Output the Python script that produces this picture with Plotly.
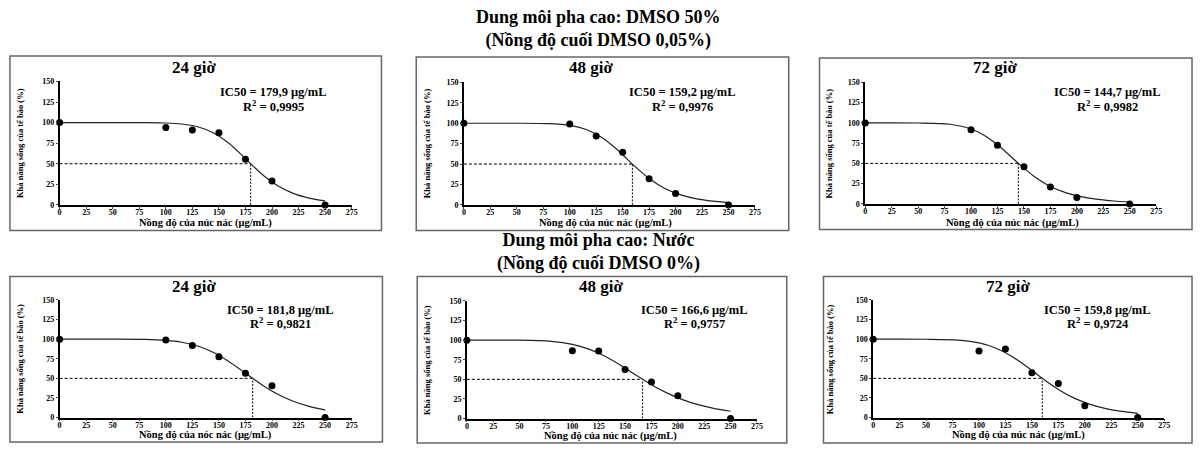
import plotly.graph_objects as go

# ---------------- data ----------------
conc = [0, 100, 125, 150, 175, 200, 250]

viability_dmso_24 = [100, 94, 91, 87.5, 55.5, 29, 0]
viability_dmso_48 = [100, 99, 84.5, 64.5, 32, 14, 0]
viability_dmso_72 = [100, 91.5, 72.5, 46, 21, 8, 0]
viability_water_24 = [100, 99, 92, 77.5, 56.5, 40.5, 0]
viability_water_48 = [100, 86.5, 86, 62.5, 46.5, 29, 0]
viability_water_72 = [100, 85, 87.5, 57, 43.5, 15, 0]

curve_x = [0, 50, 80, 100, 115, 130, 145, 160, 175, 190, 205, 220, 235, 250]
fit_dmso_24 = [100, 100, 99.9, 99.5, 98.3, 94.9, 87.4, 74.2, 56.2, 37.9, 23.6, 14.0, 8.3, 4.9]
fit_dmso_48 = [100, 100, 99.5, 97.4, 92.7, 82.9, 67.5, 49.0, 32.4, 20.1, 12.2, 7.4, 4.6, 2.9]
fit_dmso_72 = [100, 99.9, 98.3, 92.5, 82.7, 67.5, 49.7, 33.6, 21.5, 13.6, 8.6, 5.5, 3.6, 2.4]
fit_water_24 = [100, 100, 99.7, 98.5, 96.1, 91.3, 83.0, 71.0, 56.6, 42.3, 30.1, 20.8, 14.2, 9.7]
fit_water_48 = [100, 99.9, 98.4, 94.6, 88.8, 80.0, 68.5, 55.6, 43.2, 32.4, 23.8, 17.4, 12.7, 9.3]
fit_water_72 = [100, 99.9, 98.8, 95.3, 89.1, 78.9, 65.1, 49.8, 35.9, 24.8, 16.9, 11.4, 7.8, 5.4]

ic50_values = [179.9, 159.2, 144.7, 181.8, 166.6, 159.8]
r2_labels = ["0,9995", "0,9976", "0,9982", "0,9821", "0,9757", "0,9724"]
ic50_labels = ["179,9", "159,2", "144,7", "181,8", "166,6", "159,8"]
panel_titles = ["24 giờ", "48 giờ", "72 giờ", "24 giờ", "48 giờ", "72 giờ"]
x_titles = ["Nồng độ của núc nác (μg/mL)", "Nồng độ của núc nác (μg/mL)", "Nồng độ của núc nác (μg/mL)",
            "Nồng độ của nóc nác (μg/mL)", "Nồng độ của núc nác (μg/mL)", "Nồng độ của núc nác (μg/mL)"]
y_title = "Khả năng sống của tế bào (%)"
group_titles = ["Dung môi pha cao: DMSO 50%<br>(Nồng độ cuối DMSO 0,05%)",
                "Dung môi pha cao: Nước<br>(Nồng độ cuối DMSO 0%)"]
x_ticks = [0, 25, 50, 75, 100, 125, 150, 175, 200, 225, 250, 275]
y_ticks = [0, 25, 50, 75, 100, 125, 150]

points = [viability_dmso_24, viability_dmso_48, viability_dmso_72,
          viability_water_24, viability_water_48, viability_water_72]
fits = [fit_dmso_24, fit_dmso_48, fit_dmso_72, fit_water_24, fit_water_48, fit_water_72]

# ---------------- layout geometry (pixels) ----------------
W, H = 1200, 450
def px(x):
    return x / W
def py(y):
    return 1 - y / H

# axes plot area: (left, right, top, bottom)
axes_px = [(58, 352, 79, 205), (465, 758, 80, 205), (869, 1162, 80, 204),
           (58, 352, 302, 422), (468, 760, 303, 423), (877, 1170, 302, 422)]
boxes_px = [(8, 382, 53, 231), (417, 792, 54, 231), (823, 1198, 55, 230),
            (8, 383, 278, 447), (418, 790, 278, 448), (827, 1198, 278, 448)]
title_pos = [(193, 65), (593, 65), (1000, 65), (193, 288), (603, 288), (1013, 288)]
ic50_pos = [(273, 90), (685, 90), (1113, 90), (280, 312), (697, 312), (1103, 312)]
xtitle_pos = [(205, 223), (608, 223), (1017, 223), (205, 440), (613, 441), (1023, 440)]
ytitle_pos = [(18, 142), (428, 142), (833, 142), (18, 362), (428, 363), (833, 362)]
group_pos = [(600, 26), (600, 253)]

FONT = "Liberation Serif"

fig = go.Figure()
shapes = []
annotations = []

def txt(x, y, text, size, angle=0):
    return dict(x=px(x), y=py(y), xref="paper", yref="paper", showarrow=False,
                text=text, textangle=angle, xanchor="center", yanchor="middle", align="center",
                font=dict(family=FONT, size=size, color="black", weight="bold"))

for i in range(6):
    n = i + 1
    xa = "x" if n == 1 else f"x{n}"
    ya = "y" if n == 1 else f"y{n}"
    l, r, t, b = axes_px[i]
    fig.update_layout(**{
        ("xaxis" if n == 1 else f"xaxis{n}"): dict(
            domain=[px(l), px(r)], anchor=ya, range=[0, 275],
            tickvals=x_ticks, ticks="outside", ticklen=2, tickwidth=1,
            ticklabelstandoff=-3,
            showline=True, linecolor="black", linewidth=1.5,
            showgrid=False, zeroline=False,
            tickfont=dict(family=FONT, size=8, color="black", weight="bold"),
        ),
        ("yaxis" if n == 1 else f"yaxis{n}"): dict(
            domain=[py(b), py(t)], anchor=xa, range=[0, 150],
            tickvals=y_ticks, ticks="outside", ticklen=2, tickwidth=1,
            showline=True, linecolor="black", linewidth=1.5,
            showgrid=False, zeroline=False,
            tickfont=dict(family=FONT, size=8, color="black", weight="bold"),
        ),
    })
    ic = ic50_values[i]
    # reference lines
    fig.add_trace(go.Scatter(x=[0, ic], y=[50, 50], mode="lines", xaxis=xa, yaxis=ya,
                             line=dict(color="black", width=1, dash="3px,2px"),
                             showlegend=False, hoverinfo="skip"))
    fig.add_trace(go.Scatter(x=[ic, ic], y=[0, 50], mode="lines", xaxis=xa, yaxis=ya,
                             line=dict(color="black", width=1, dash="2px,1.5px"),
                             showlegend=False, hoverinfo="skip"))
    # fitted curve
    fig.add_trace(go.Scatter(x=curve_x, y=fits[i], mode="lines", xaxis=xa, yaxis=ya,
                             line=dict(color="#222222", width=1.2, shape="spline", smoothing=0.8),
                             showlegend=False))
    # data points
    fig.add_trace(go.Scatter(x=conc, y=points[i], mode="markers", xaxis=xa, yaxis=ya,
                             marker=dict(color="black", size=7), cliponaxis=False,
                             showlegend=False))
    # panel box
    bl, br, bt, bb = boxes_px[i]
    shapes.append(dict(type="rect", xref="paper", yref="paper",
                       x0=px(bl), x1=px(br), y0=py(bb), y1=py(bt),
                       line=dict(color="#666666", width=1.5)))
    # texts
    tx, ty = title_pos[i]
    annotations.append(txt(tx, ty, panel_titles[i], 17))
    cx, cy = ic50_pos[i]
    annotations.append(txt(cx, cy, f"IC50 = {ic50_labels[i]} μg/mL", 12.5))
    annotations.append(txt(cx, cy + 14, f"R<sup>2</sup> = {r2_labels[i]}", 12.5))
    ax_, ay_ = xtitle_pos[i]
    annotations.append(txt(ax_, ay_, x_titles[i], 10.5))
    yx, yy = ytitle_pos[i]
    annotations.append(txt(yx, yy, y_title, 8.5, angle=-90))

for k in range(2):
    gx, gy = group_pos[k]
    annotations.append(txt(gx, gy, group_titles[k], 18))

fig.update_layout(width=W, height=H, margin=dict(l=0, r=0, t=0, b=0),
                  paper_bgcolor="white", plot_bgcolor="white",
                  shapes=shapes, annotations=annotations, showlegend=False)

fig.write_html("out.html", config={"displayModeBar": False},
               post_script="document.body.style.margin='0px';")
